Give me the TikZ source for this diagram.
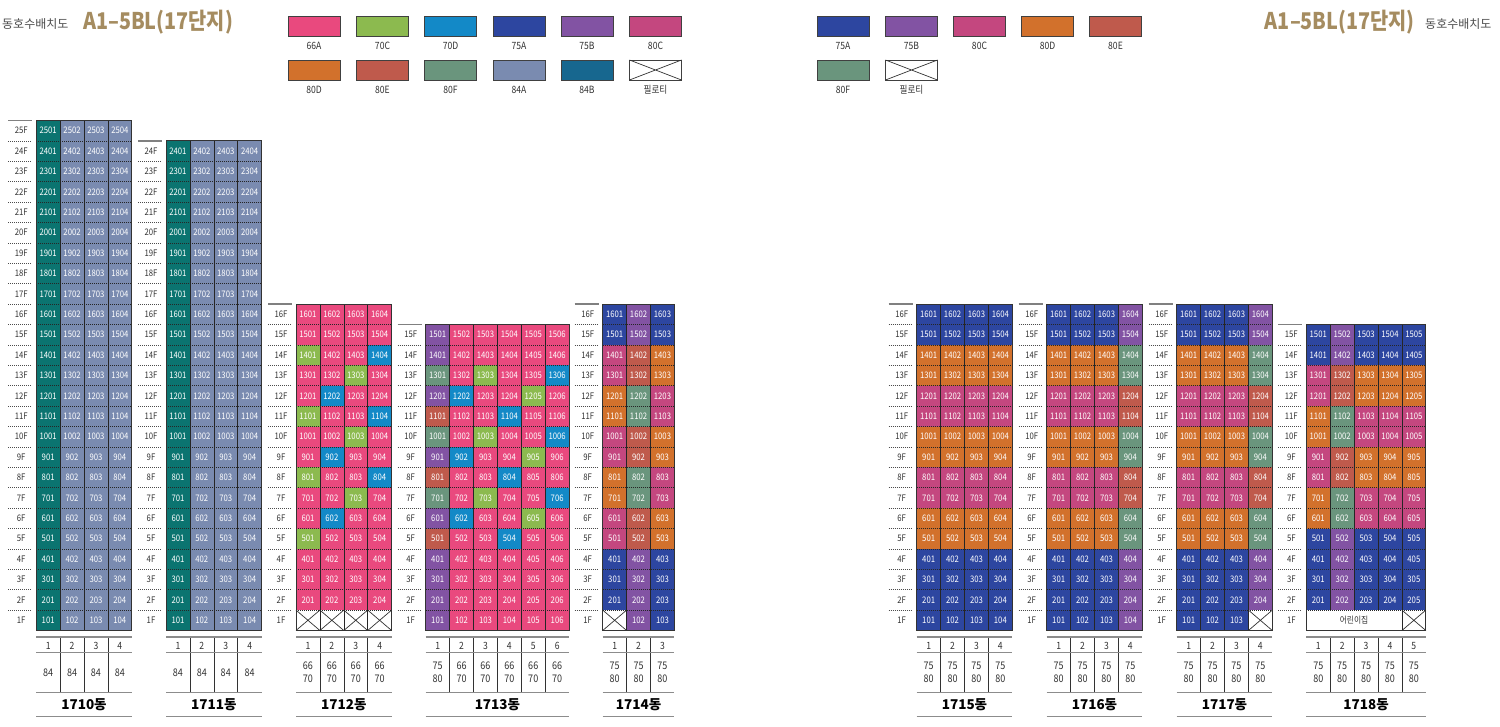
\documentclass[tikz,border=0pt]{standalone}
\usepackage{fontspec}
\setmainfont{Noto Sans CJK KR}
\newfontfamily\nar[FakeStretch=0.86]{Noto Sans CJK KR}
\newfontfamily\titf[FakeStretch=0.86]{Noto Sans CJK KR}
\definecolor{uP}{HTML}{E9497E}% 66A
\definecolor{uG}{HTML}{8CBA4F}% 70C
\definecolor{uL}{HTML}{1389C7}% 70D
\definecolor{uA}{HTML}{2D46A0}% 75A
\definecolor{uB}{HTML}{8253A3}% 75B
\definecolor{uC}{HTML}{C4477F}% 80C
\definecolor{uD}{HTML}{D2712C}% 80D
\definecolor{uE}{HTML}{BF5A4C}% 80E
\definecolor{uF}{HTML}{6A957D}% 80F
\definecolor{uH}{HTML}{7A8BB0}% 84A
\definecolor{uT}{HTML}{0B7470}% 84B (cells)
\definecolor{uK}{HTML}{17678F}% 84B (legend)
\definecolor{titlec}{HTML}{A58C60}
\definecolor{ink}{HTML}{333333}
\def\yb{630.5}
\def\rh{20.4}
\def\cw{23.9}
\def\codeX{X}
\def\codeW{W}
\tikzset{
  celltxt/.style={font=\nar\fontsize{9}{9}\selectfont, text=white, inner sep=0pt},
  flab/.style={font=\nar\fontsize{9}{9}\selectfont, text=ink, inner sep=0pt},
  numtxt/.style={font=\nar\fontsize{10}{10}\selectfont, text=ink, inner sep=0pt},
  typetxt/.style={font=\nar\fontsize{10.5}{13.5}\selectfont, text=ink, inner sep=0pt, align=center},
  bname/.style={font=\fontsize{13.5}{14}\selectfont\bfseries, text=black, inner sep=0pt},
  legtxt/.style={font=\nar\fontsize{10}{10}\selectfont, text=ink, inner sep=0pt},
  titletxt/.style={font=\titf\fontsize{23}{23}\selectfont\bfseries, text=titlec, inner sep=0pt},
  subtxt/.style={font=\fontsize{12}{12}\selectfont, text=black!70, inner sep=0pt},
  hsep/.style={draw=black!85, line width=0.55pt, dash pattern=on 1pt off 1pt},
  vsep/.style={draw=black!85, line width=0.6pt},
  outerln/.style={draw=black!80, line width=0.9pt},
  pil/.style={draw=black!80, line width=0.7pt},
  fsep/.style={draw=black!70, line width=0.6pt, dash pattern=on 1pt off 1pt},
  topln/.style={draw=black!50, line width=1.6pt},
  tline/.style={draw=black!45, line width=1.6pt},
  tmid/.style={draw=black!45, line width=1.1pt},
  tsep/.style={draw=ink, line width=0.6pt},
  swatch/.style={draw=black!75, line width=0.7pt},
}
% #1 name, #2 left x, #3 floors, #4 columns, #5 rows (top to bottom), #6 types
\newcommand\bldg[6]{%
  \pgfmathsetmacro\bR{#2+#4*\cw}%
  \pgfmathsetmacro\bT{\yb-#3*\rh}%
  \foreach \row [count=\ri] in {#5} {%
    \pgfmathtruncatemacro\fl{#3-\ri+1}%
    \foreach \cd [count=\ki] in \row {%
      \edef\cc{\cd}%
      \pgfmathsetmacro\xa{#2+(\ki-1)*\cw}%
      \pgfmathsetmacro\ya{\yb-\fl*\rh}%
      \ifx\cc\codeX
        \fill[white] (\xa,\ya) rectangle ++(\cw,\rh);
        \draw[pil] (\xa,\ya) -- ++(\cw,\rh) (\xa+\cw,\ya) -- ++(-\cw,\rh);
      \else\ifx\cc\codeW
        \fill[white] (\xa,\ya) rectangle ++(\cw,\rh);
      \else
        \fill[u\cc] (\xa,\ya) rectangle ++(\cw,\rh);
        \node[celltxt] (c#1-\fl-\ki) at (\xa+\cw/2,\ya+\rh/2) {\fl0\ki};
      \fi\fi
      \ifnum\ri>1 \draw[hsep] (\xa,\ya) -- ++(\cw,0);\fi
      \ifnum\ki>1 \ifx\cc\codeW\else\draw[vsep] (\xa,\ya) -- ++(0,\rh);\fi\fi
    }%
  }%
  \draw[outerln] (#2,\bT) rectangle (\bR,\yb);
  \foreach \f in {1,...,#3} {%
    \node[flab] (f#1-\f) at (#2-15,\yb-\f*\rh+\rh/2) {\f F};
    \ifnum\f<#3 \draw[fsep] (#2-28,\yb-\f*\rh) -- (#2-4,\yb-\f*\rh);\fi
  }%
  \draw[topln] (#2-28,\bT) -- (#2-4,\bT);
  \foreach \tp [count=\ki] in {#6} {%
    \pgfmathsetmacro\xa{#2+(\ki-1)*\cw}%
    \node[numtxt] (n#1-\ki) at (\xa+\cw/2,646) {\ki};
    \node[typetxt] (t#1-\ki) at (\xa+\cw/2,672.5) {\tp};
    \ifnum\ki>1 \draw[tsep] (\xa,637) -- (\xa,692.5);\fi
  }%
  \draw[tline] (#2,637) -- (\bR,637);
  \draw[tmid] (#2,652.5) -- (\bR,652.5);
  \draw[tline] (#2,692.5) -- (\bR,692.5);
  \draw[tline] (#2,716.5) -- (\bR,716.5);
  \node[bname] (name#1) at ({(#2+\bR)/2},704.5) {#1동};
}
% legend swatch: #1 name, #2 x, #3 y, #4 colour code, #5 label
\newcommand\swatch[5]{%
  \ifx#4X
    \draw[swatch, fill=white] (#2,#3) rectangle ++(52,20);
    \draw[pil] (#2,#3) -- ++(52,20) (#2+52,#3) -- ++(-52,20);
  \else
    \draw[swatch, fill=u#4] (#2,#3) rectangle ++(52,20);
  \fi
  \node[legtxt] (#1) at (#2+26,#3+30) {#5};
}
\begin{document}
\begin{tikzpicture}[x=1pt,y=-1pt]
\useasboundingbox (0,0) rectangle (1500,727);
\fill[white] (0,0) rectangle (1500,727);
% titles
\node[anchor=west, subtxt] (tl1) at (2,24) {동호수배치도};
\node[anchor=west, titletxt] (tl2) at (83,22) {A1–5BL(17단지)};
\node[anchor=east, titletxt] (tr2) at (1415,22) {A1–5BL(17단지)};
\node[anchor=west, subtxt] (tr1) at (1425,24) {동호수배치도};
% legend left
\swatch{l1}{288}{16}{P}{66A}
\swatch{l2}{356.5}{16}{G}{70C}
\swatch{l3}{424.5}{16}{L}{70D}
\swatch{l4}{493}{16}{A}{75A}
\swatch{l5}{561}{16}{B}{75B}
\swatch{l6}{629.5}{16}{C}{80C}
\swatch{l7}{288}{60}{D}{80D}
\swatch{l8}{356.5}{60}{E}{80E}
\swatch{l9}{424.5}{60}{F}{80F}
\swatch{l10}{493}{60}{H}{84A}
\swatch{l11}{561}{60}{K}{84B}
\swatch{l12}{629.5}{60}{X}{필로티}
% legend right
\swatch{r1}{817}{16}{A}{75A}
\swatch{r2}{885.5}{16}{B}{75B}
\swatch{r3}{953.5}{16}{C}{80C}
\swatch{r4}{1021.5}{16}{D}{80D}
\swatch{r5}{1089.5}{16}{E}{80E}
\swatch{r6}{817}{60}{F}{80F}
\swatch{r7}{885.5}{60}{X}{필로티}
% buildings
\bldg{1710}{36.2}{25}{4}{{T,H,H,H},{T,H,H,H},{T,H,H,H},{T,H,H,H},{T,H,H,H},{T,H,H,H},{T,H,H,H},{T,H,H,H},{T,H,H,H},{T,H,H,H},{T,H,H,H},{T,H,H,H},{T,H,H,H},{T,H,H,H},{T,H,H,H},{T,H,H,H},{T,H,H,H},{T,H,H,H},{T,H,H,H},{T,H,H,H},{T,H,H,H},{T,H,H,H},{T,H,H,H},{T,H,H,H},{T,H,H,H}}{84,84,84,84}
\bldg{1711}{166}{24}{4}{{T,H,H,H},{T,H,H,H},{T,H,H,H},{T,H,H,H},{T,H,H,H},{T,H,H,H},{T,H,H,H},{T,H,H,H},{T,H,H,H},{T,H,H,H},{T,H,H,H},{T,H,H,H},{T,H,H,H},{T,H,H,H},{T,H,H,H},{T,H,H,H},{T,H,H,H},{T,H,H,H},{T,H,H,H},{T,H,H,H},{T,H,H,H},{T,H,H,H},{T,H,H,H},{T,H,H,H}}{84,84,84,84}
\bldg{1712}{296}{16}{4}{{P,P,P,P},{P,P,P,P},{G,P,P,L},{P,P,G,P},{P,L,P,P},{G,P,P,L},{P,P,G,P},{P,L,P,P},{G,P,P,L},{P,P,G,P},{P,L,P,P},{G,P,P,P},{P,P,P,P},{P,P,P,P},{P,P,P,P},{X,X,X,X}}{{66\\70},{66\\70},{66\\70},{66\\70}}
\bldg{1713}{425.7}{15}{6}{{B,P,P,P,P,P},{B,P,P,P,P,P},{F,P,G,P,P,L},{B,L,P,P,G,P},{E,P,P,L,P,P},{F,P,G,P,P,L},{B,L,P,P,G,P},{E,P,P,L,P,P},{F,P,G,P,P,L},{B,L,P,P,G,P},{E,P,P,L,P,P},{B,P,P,P,P,P},{B,P,P,P,P,P},{B,P,P,P,P,P},{B,P,P,P,P,P}}{{75\\80},{66\\70},{66\\70},{66\\70},{66\\70},{66\\70}}
\bldg{1714}{602.7}{16}{3}{{A,B,A},{A,B,A},{C,E,D},{C,E,D},{D,F,C},{D,F,C},{C,E,D},{C,E,D},{D,F,C},{D,F,C},{C,E,D},{C,E,D},{A,B,A},{A,B,A},{A,B,A},{X,B,A}}{{75\\80},{75\\80},{75\\80}}
\bldg{1715}{916.7}{16}{4}{{A,A,A,A},{A,A,A,A},{D,D,D,D},{D,D,D,D},{C,C,C,C},{C,C,C,C},{D,D,D,D},{D,D,D,D},{C,C,C,C},{C,C,C,C},{D,D,D,D},{D,D,D,D},{A,A,A,A},{A,A,A,A},{A,A,A,A},{A,A,A,A}}{{75\\80},{75\\80},{75\\80},{75\\80}}
\bldg{1716}{1046.7}{16}{4}{{A,A,A,B},{A,A,A,B},{D,D,D,F},{D,D,D,F},{C,C,C,E},{C,C,C,E},{D,D,D,F},{D,D,D,F},{C,C,C,E},{C,C,C,E},{D,D,D,F},{D,D,D,F},{A,A,A,B},{A,A,A,B},{A,A,A,B},{A,A,A,B}}{{75\\80},{75\\80},{75\\80},{75\\80}}
\bldg{1717}{1176.7}{16}{4}{{A,A,A,B},{A,A,A,B},{D,D,D,F},{D,D,D,F},{C,C,C,E},{C,C,C,E},{D,D,D,F},{D,D,D,F},{C,C,C,E},{C,C,C,E},{D,D,D,F},{D,D,D,F},{A,A,A,B},{A,A,A,B},{A,A,A,B},{A,A,A,X}}{{75\\80},{75\\80},{75\\80},{75\\80}}
\bldg{1718}{1306.3}{15}{5}{{A,B,A,A,A},{A,B,A,A,A},{C,E,D,D,D},{C,E,D,D,D},{D,F,C,C,C},{D,F,C,C,C},{C,E,D,D,D},{C,E,D,D,D},{D,F,C,C,C},{D,F,C,C,C},{A,B,A,A,A},{A,B,A,A,A},{A,B,A,A,A},{A,B,A,A,A},{W,W,W,W,X}}{{75\\80},{75\\80},{75\\80},{75\\80},{75\\80}}
\node[font=\nar\fontsize{9}{9}\selectfont, text=ink, inner sep=0pt] (daycare) at (1306.3+2*23.9,630.5-10.2) {어린이집};
\end{tikzpicture}
\end{document}
